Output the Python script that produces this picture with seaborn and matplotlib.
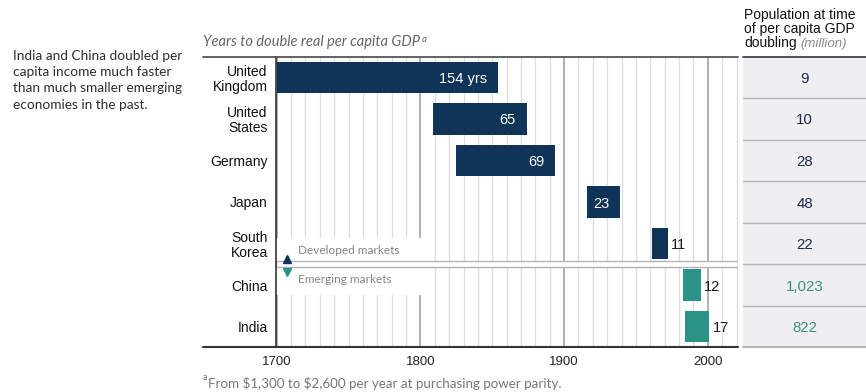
import numpy as np
import pandas as pd
import matplotlib
matplotlib.use("Agg")
import matplotlib.pyplot as plt
from matplotlib.lines import Line2D
from matplotlib.patches import Rectangle
import seaborn as sns

# ---- data -------------------------------------------------------------
countries = ["United\nKingdom", "United\nStates", "Germany", "Japan",
             "South\nKorea", "China", "India"]
start_years = [1700, 1809, 1825, 1916, 1961, 1983, 1984]
years_to_double = [154, 65, 69, 23, 11, 12, 17]
market_group = ["Developed", "Developed", "Developed", "Developed",
                "Developed", "Emerging", "Emerging"]
population_millions = [9, 10, 28, 48, 22, 1023, 822]
year_ticks = [1700, 1800, 1900, 2000]

NAVY = "#0f3457"
TEAL = "#2b9385"
NAVY_TXT = "#1c2b4a"
TEAL_TXT = "#3a8f84"

sns.set_theme(style="white")
plt.rcParams["font.family"] = ["Liberation Sans", "DejaVu Sans"]
SOFT = ["Lato", "DejaVu Sans"]

df = pd.DataFrame({"country": countries, "start": start_years,
                   "years": years_to_double, "group": market_group,
                   "population": population_millions})

W, H = 866, 392
fig = plt.figure(figsize=(W / 100, H / 100), dpi=100)


def fx(px):
    return px / W


def fy(py):
    return 1 - py / H


TOP, BOT = 56.7, 347.3
ax = fig.add_axes([fx(276), fy(BOT), fx(738) - fx(276), fy(TOP) - fy(BOT)])

# floating bars: width = years to double, starting at the first year
for group, color in [("Developed", NAVY), ("Emerging", TEAL)]:
    sub = df[df["group"] == group]
    sns.barplot(data=sub, x="years", y="country", order=countries,
                orient="y", color=color, saturation=1, width=0.75,
                errorbar=None, left=sub["start"].to_numpy(), ax=ax,
                zorder=2, linewidth=0)

ax.set_xlim(1699.5, 2021)
ax.set_ylim(6.5, -0.5)
ax.set_xlabel("")
ax.set_ylabel("")
ax.set_xticks(year_ticks)
ax.set_xticks(np.arange(1710, 2021, 10), minor=True)
ax.set_axisbelow(True)
ax.grid(which="major", axis="x", color="#9c9c9c", lw=1.1)
ax.grid(which="minor", axis="x", color="#dedede", lw=1.0)
ax.grid(which="both", axis="y", visible=False)
ax.tick_params(axis="both", which="both", length=0)
ax.tick_params(axis="x", labelsize=9.5, labelcolor="#222222", pad=6)
ax.tick_params(axis="y", labelsize=10, labelcolor="#111111", pad=6)
for t in ax.get_yticklabels():
    t.set_linespacing(1.05)
for side in ["top", "right", "bottom"]:
    ax.spines[side].set_visible(False)
ax.spines["left"].set_color("#333333")
ax.spines["left"].set_linewidth(1.2)

# value labels
for i, (s, n) in enumerate(zip(start_years, years_to_double)):
    end = s + n
    txt = f"{n} yrs" if i == 0 else str(n)
    if n >= 20:
        ax.annotate(txt, xy=(end, i), xytext=(-8, 0), textcoords="offset points",
                    ha="right", va="center_baseline", color="white", fontsize=10.5, zorder=4)
    else:
        ax.annotate(txt, xy=(end, i), xytext=(2.5, 0), textcoords="offset points",
                    ha="left", va="center_baseline", color="#1a1a1a", fontsize=10.5, zorder=4)

# developed / emerging divider with its legend labels
ax.add_patch(Rectangle((1699.8, 3.86), 102, 0.57, facecolor="white",
                       edgecolor="none", zorder=1.5))
ax.add_patch(Rectangle((1699.8, 4.57), 102, 0.66, facecolor="white",
                       edgecolor="none", zorder=1.5))
ax.axhspan(4.43, 4.57, facecolor="white", edgecolor="#b3b3b3", lw=1, zorder=1.6)
ax.plot([1707], [4.38], marker="^", ms=6, color=NAVY, zorder=3, clip_on=False)
ax.plot([1707], [4.69], marker="v", ms=6, color=TEAL, zorder=3, clip_on=False)
ax.text(1715, 4.17, "Developed markets", ha="left", va="center", fontsize=8.5,
        color="#858585", family=SOFT, zorder=3)
ax.text(1715, 4.87, "Emerging markets", ha="left", va="center", fontsize=8.5,
        color="#858585", family=SOFT, zorder=3)

# rules running across the label column
fig.add_artist(Line2D([fx(203), fx(738)], [fy(TOP), fy(TOP)], color="#555555", lw=1.3))
fig.add_artist(Line2D([fx(203), fx(738)], [fy(BOT), fy(BOT)], color="#333333", lw=1.5))

# population table
tab = fig.add_axes([fx(743), fy(BOT), 1 - fx(743), fy(TOP) - fy(BOT)])
tab.set_facecolor("#efeff1")
tab.set_xlim(0, 1)
tab.set_ylim(6.5, -0.5)
tab.set_xticks([])
tab.set_yticks([])
for s in tab.spines.values():
    s.set_visible(False)
for i, (p, g) in enumerate(zip(population_millions, market_group)):
    tab.text(0.5, i, f"{p:,}", ha="center", va="center_baseline", fontsize=10.8,
             color=NAVY_TXT if g == "Developed" else TEAL_TXT)
for yb in np.arange(0.5, 6.5, 1):
    tab.axhline(yb, color="#b4b4b4", lw=1)
tab.axhline(-0.5, color="#444444", lw=1.3, clip_on=False)
tab.axhline(6.5, color="#a8a8a8", lw=1.2, clip_on=False)

# table header
fig.text(fx(744), fy(18.5), "Population at time", ha="left", va="baseline",
         fontsize=10, color="#111111")
fig.text(fx(744), fy(33), "of per capita GDP", ha="left", va="baseline",
         fontsize=10, color="#111111")
dbl = fig.text(fx(744), fy(47.5), "doubling", ha="left", va="baseline",
               fontsize=10, color="#111111")
tab.annotate("(million)", xy=(1, 0), xycoords=dbl, xytext=(2.5, 0),
             textcoords="offset points", ha="left", va="bottom",
             fontsize=9.5, style="italic", color="#8a8a8a")

# chart title with footnote marker
ttl = fig.text(fx(203), fy(42), "Years to double real per capita GDP",
               ha="left", va="center", fontsize=10.5, style="italic",
               color="#666666", family=SOFT)
ax.annotate("a", xy=(1, 1), xycoords=ttl, xytext=(1, 0), textcoords="offset points",
            ha="left", va="top", fontsize=7, style="italic", color="#666666",
            family=SOFT)

# side note
fig.text(fx(13), fy(50), "India and China doubled per\ncapita income much faster\n"
         "than much smaller emerging\neconomies in the past.",
         ha="left", va="top", fontsize=9.8, linespacing=1.42,
         color="#2e2e2e", family=SOFT)

# footnote
fn_a = fig.text(fx(203), fy(377), "a", ha="left", va="center", fontsize=6.5,
                color="#777777", family=SOFT)
ax.annotate("From \\$1,300 to \\$2,600 per year at purchasing power parity.",
            xy=(1, 0), xycoords=fn_a, xytext=(0.5, -1.5), textcoords="offset points",
            ha="left", va="center", fontsize=9.6, color="#777777", family=SOFT)

fig.savefig("out.png", dpi=100, facecolor="white")
